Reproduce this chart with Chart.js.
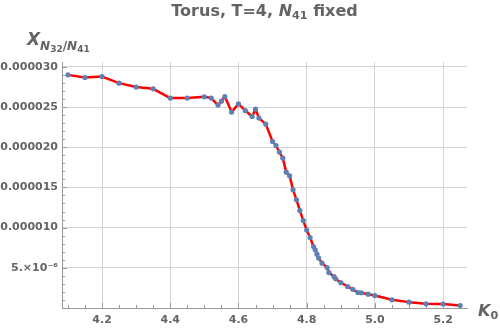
<!DOCTYPE html>
<html>
<head>
<meta charset="utf-8">
<script src="https://cdn.jsdelivr.net/npm/chart.js@4/dist/chart.umd.min.js"></script>
<style>
  body { margin: 0; background: #fff; }
  #wrap { position: relative; width: 500px; height: 332px; }
  .lbl { position: absolute; font-family: "DejaVu Sans", sans-serif; color: #646464; font-weight: bold; white-space: nowrap; line-height: 1; }
  .lbl i { font-style: italic; }
  .lbl sub { font-size: 70%; vertical-align: baseline; position: relative; top: 0.3em; }
</style>
</head>
<body>
<div id="wrap">
  <canvas id="chart" width="500" height="332"></canvas>
  <div class="lbl" id="title" style="left:62px; top:3px; width:405px; text-align:center; font-size:16px;">Torus, T=4, <i>N</i><sub>41</sub> fixed</div>
  <div class="lbl" id="ytitle" style="left:27px; top:31px; font-size:17px;"><i>X</i><sub style="font-size:12px; top:0.4em;"><i>N</i><sub style="font-size:9px;">32</sub>/<i>N</i><sub style="font-size:9px;">41</sub></sub></div>
  <div class="lbl" id="xtitle" style="left:478px; top:303px; font-size:16px;"><i>K</i><sub>0</sub></div>
</div>
<script>
// data
const k0 = [4.10, 4.15, 4.20, 4.25, 4.30, 4.35, 4.40, 4.45, 4.50, 4.52, 4.54, 4.55, 4.56, 4.58, 4.60,
  4.62, 4.64, 4.65, 4.66, 4.68, 4.70, 4.71, 4.72, 4.73, 4.74, 4.75, 4.76, 4.77, 4.78, 4.79, 4.80,
  4.81, 4.82, 4.825, 4.83, 4.835, 4.845, 4.86, 4.865, 4.88, 4.885, 4.90, 4.92, 4.935, 4.95, 4.96,
  4.98, 5.00, 5.05, 5.10, 5.15, 5.20, 5.25];
const chi = [2.900e-5, 2.867e-5, 2.879e-5, 2.797e-5, 2.748e-5, 2.726e-5, 2.611e-5, 2.611e-5, 2.628e-5,
  2.611e-5, 2.524e-5, 2.573e-5, 2.631e-5, 2.437e-5, 2.540e-5, 2.456e-5, 2.382e-5, 2.474e-5, 2.362e-5,
  2.287e-5, 2.071e-5, 2.021e-5, 1.939e-5, 1.864e-5, 1.690e-5, 1.644e-5, 1.470e-5, 1.346e-5, 1.213e-5,
  1.088e-5, 9.70e-6, 8.77e-6, 7.65e-6, 7.24e-6, 6.70e-6, 6.21e-6, 5.58e-6, 5.04e-6, 4.41e-6, 3.91e-6,
  3.63e-6, 3.15e-6, 2.67e-6, 2.32e-6, 1.93e-6, 1.90e-6, 1.72e-6, 1.55e-6, 1.02e-6, 0.73e-6, 0.52e-6,
  0.50e-6, 0.31e-6];

const xTicks = [4.2, 4.4, 4.6, 4.8, 5.0, 5.2];
const yTicks = [5e-6, 1e-5, 1.5e-5, 2e-5, 2.5e-5, 3e-5];

const axisColor = "#9a9a9a";
const gridColor = "#d4d4d4";
const textColor = "#646464";
const tickFont = { family: "DejaVu Sans", size: 11, weight: "bold" };

// minor tick marks like Mathematica's axes
const minorTicks = {
  id: "minorTicks",
  beforeDatasetsDraw(chart) {
    const { ctx, chartArea: a, scales: { x, y } } = chart;
    ctx.save();
    ctx.strokeStyle = axisColor;
    ctx.lineWidth = 1;
    ctx.beginPath();
    for (let i = 0; i <= 24; i++) {
      const v = 4.05 + i * 0.05;
      const px = Math.round(x.getPixelForValue(v)) + 0.5;
      if (px < a.left || px > a.right) continue;
      const major = xTicks.some(t => Math.abs(t - v) < 1e-6);
      ctx.moveTo(px, a.bottom);
      ctx.lineTo(px, a.bottom - (major ? 5 : 3));
    }
    for (let i = 1; i <= 30; i++) {
      const v = i * 1e-6;
      const py = Math.round(y.getPixelForValue(v)) + 0.5;
      if (py < a.top) continue;
      const major = i % 5 === 0;
      ctx.moveTo(a.left, py);
      ctx.lineTo(a.left + (major ? 5 : 3), py);
    }
    ctx.stroke();
    ctx.restore();
  }
};

new Chart(document.getElementById("chart"), {
  type: "line",
  data: {
    datasets: [{
      data: k0.map((k, i) => ({ x: k, y: chi[i] })),
      borderColor: "#ff0000",
      borderWidth: 2.5,
      borderJoinStyle: "round",
      borderCapStyle: "round",
      tension: 0,
      pointRadius: 2.6,
      pointBorderWidth: 0,
      pointBackgroundColor: "#5e81b5"
    }]
  },
  options: {
    responsive: false,
    animation: false,
    devicePixelRatio: 1,
    layout: { padding: { top: 62, right: 33, left: 0, bottom: 0 } },
    plugins: { legend: { display: false }, tooltip: { enabled: false } },
    scales: {
      x: {
        type: "linear",
        min: 4.0826,
        max: 5.27,
        afterBuildTicks: s => { s.ticks = xTicks.map(v => ({ value: v })); },
        afterFit: s => { s.height = 24; },
        grid: { color: gridColor, drawTicks: false },
        border: { color: axisColor },
        ticks: {
          padding: 6,
          color: textColor,
          font: tickFont,
          callback: v => v.toFixed(1)
        }
      },
      y: {
        type: "linear",
        min: 0,
        max: 3.06e-5,
        afterBuildTicks: s => { s.ticks = yTicks.map(v => ({ value: v })); },
        afterFit: s => { s.width = 62; },
        grid: { color: gridColor, drawTicks: false },
        border: { color: axisColor },
        ticks: {
          padding: 4,
          color: textColor,
          font: tickFont,
          callback: v => v === 5e-6 ? "5.×10⁻⁶" : v.toFixed(6)
        }
      }
    }
  },
  plugins: [minorTicks]
});
</script>
</body>
</html>
